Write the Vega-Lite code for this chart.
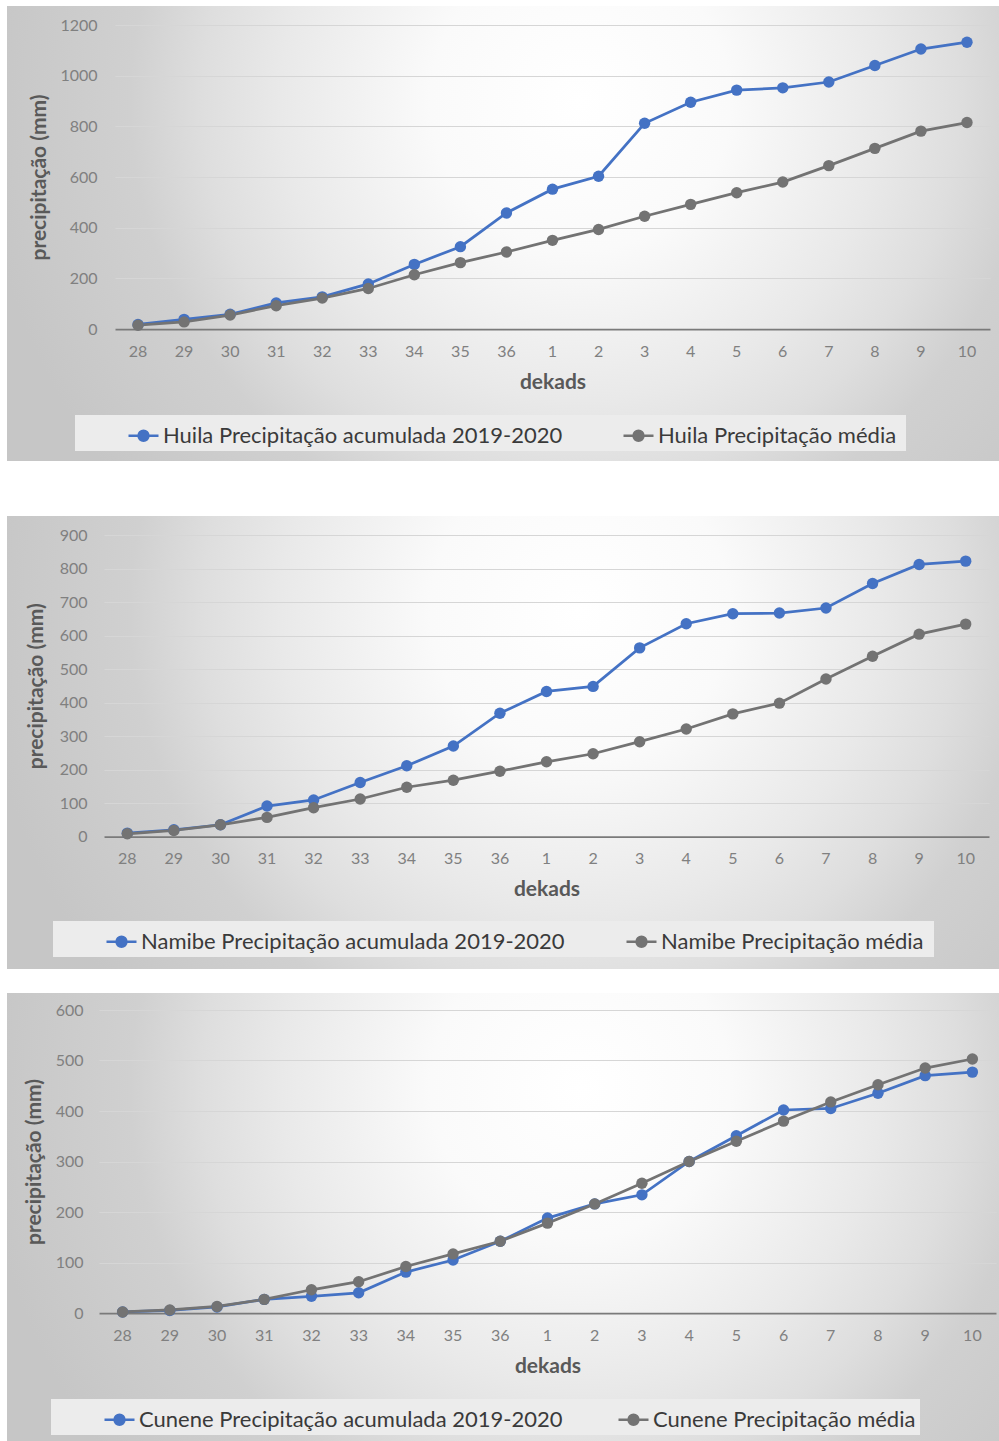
{
  "$schema": "https://vega.github.io/schema/vega-lite/v6.json",
  "padding": {"left": 7, "top": 6, "right": 0, "bottom": 0},
  "background": "#ffffff",
  "datasets": {
    "huila": [
      {"dekad": "28", "serie": "Huila  Precipitação acumulada 2019-2020", "mm": 18},
      {"dekad": "29", "serie": "Huila  Precipitação acumulada 2019-2020", "mm": 38},
      {"dekad": "30", "serie": "Huila  Precipitação acumulada 2019-2020", "mm": 58},
      {"dekad": "31", "serie": "Huila  Precipitação acumulada 2019-2020", "mm": 103},
      {"dekad": "32", "serie": "Huila  Precipitação acumulada 2019-2020", "mm": 127},
      {"dekad": "33", "serie": "Huila  Precipitação acumulada 2019-2020", "mm": 178},
      {"dekad": "34", "serie": "Huila  Precipitação acumulada 2019-2020", "mm": 255},
      {"dekad": "35", "serie": "Huila  Precipitação acumulada 2019-2020", "mm": 325},
      {"dekad": "36", "serie": "Huila  Precipitação acumulada 2019-2020", "mm": 458},
      {"dekad": "1", "serie": "Huila  Precipitação acumulada 2019-2020", "mm": 552},
      {"dekad": "2", "serie": "Huila  Precipitação acumulada 2019-2020", "mm": 603},
      {"dekad": "3", "serie": "Huila  Precipitação acumulada 2019-2020", "mm": 812},
      {"dekad": "4", "serie": "Huila  Precipitação acumulada 2019-2020", "mm": 895},
      {"dekad": "5", "serie": "Huila  Precipitação acumulada 2019-2020", "mm": 943},
      {"dekad": "6", "serie": "Huila  Precipitação acumulada 2019-2020", "mm": 952},
      {"dekad": "7", "serie": "Huila  Precipitação acumulada 2019-2020", "mm": 975},
      {"dekad": "8", "serie": "Huila  Precipitação acumulada 2019-2020", "mm": 1040},
      {"dekad": "9", "serie": "Huila  Precipitação acumulada 2019-2020", "mm": 1105},
      {"dekad": "10", "serie": "Huila  Precipitação acumulada 2019-2020", "mm": 1132},
      {"dekad": "28", "serie": "Huila  Precipitação média", "mm": 15},
      {"dekad": "29", "serie": "Huila  Precipitação média", "mm": 28},
      {"dekad": "30", "serie": "Huila  Precipitação média", "mm": 55},
      {"dekad": "31", "serie": "Huila  Precipitação média", "mm": 92},
      {"dekad": "32", "serie": "Huila  Precipitação média", "mm": 122},
      {"dekad": "33", "serie": "Huila  Precipitação média", "mm": 160},
      {"dekad": "34", "serie": "Huila  Precipitação média", "mm": 214},
      {"dekad": "35", "serie": "Huila  Precipitação média", "mm": 262},
      {"dekad": "36", "serie": "Huila  Precipitação média", "mm": 304},
      {"dekad": "1", "serie": "Huila  Precipitação média", "mm": 350},
      {"dekad": "2", "serie": "Huila  Precipitação média", "mm": 393},
      {"dekad": "3", "serie": "Huila  Precipitação média", "mm": 445},
      {"dekad": "4", "serie": "Huila  Precipitação média", "mm": 492},
      {"dekad": "5", "serie": "Huila  Precipitação média", "mm": 538},
      {"dekad": "6", "serie": "Huila  Precipitação média", "mm": 580},
      {"dekad": "7", "serie": "Huila  Precipitação média", "mm": 645},
      {"dekad": "8", "serie": "Huila  Precipitação média", "mm": 713},
      {"dekad": "9", "serie": "Huila  Precipitação média", "mm": 781},
      {"dekad": "10", "serie": "Huila  Precipitação média", "mm": 815}
    ],
    "namibe": [
      {"dekad": "28", "serie": "Namibe  Precipitação acumulada 2019-2020", "mm": 10},
      {"dekad": "29", "serie": "Namibe  Precipitação acumulada 2019-2020", "mm": 20},
      {"dekad": "30", "serie": "Namibe  Precipitação acumulada 2019-2020", "mm": 35},
      {"dekad": "31", "serie": "Namibe  Precipitação acumulada 2019-2020", "mm": 91},
      {"dekad": "32", "serie": "Namibe  Precipitação acumulada 2019-2020", "mm": 109},
      {"dekad": "33", "serie": "Namibe  Precipitação acumulada 2019-2020", "mm": 161},
      {"dekad": "34", "serie": "Namibe  Precipitação acumulada 2019-2020", "mm": 211},
      {"dekad": "35", "serie": "Namibe  Precipitação acumulada 2019-2020", "mm": 270},
      {"dekad": "36", "serie": "Namibe  Precipitação acumulada 2019-2020", "mm": 368},
      {"dekad": "1", "serie": "Namibe  Precipitação acumulada 2019-2020", "mm": 433},
      {"dekad": "2", "serie": "Namibe  Precipitação acumulada 2019-2020", "mm": 448},
      {"dekad": "3", "serie": "Namibe  Precipitação acumulada 2019-2020", "mm": 563},
      {"dekad": "4", "serie": "Namibe  Precipitação acumulada 2019-2020", "mm": 635},
      {"dekad": "5", "serie": "Namibe  Precipitação acumulada 2019-2020", "mm": 665},
      {"dekad": "6", "serie": "Namibe  Precipitação acumulada 2019-2020", "mm": 667},
      {"dekad": "7", "serie": "Namibe  Precipitação acumulada 2019-2020", "mm": 682},
      {"dekad": "8", "serie": "Namibe  Precipitação acumulada 2019-2020", "mm": 755},
      {"dekad": "9", "serie": "Namibe  Precipitação acumulada 2019-2020", "mm": 812},
      {"dekad": "10", "serie": "Namibe  Precipitação acumulada 2019-2020", "mm": 822},
      {"dekad": "28", "serie": "Namibe  Precipitação média", "mm": 8},
      {"dekad": "29", "serie": "Namibe  Precipitação média", "mm": 18},
      {"dekad": "30", "serie": "Namibe  Precipitação média", "mm": 35},
      {"dekad": "31", "serie": "Namibe  Precipitação média", "mm": 57},
      {"dekad": "32", "serie": "Namibe  Precipitação média", "mm": 86},
      {"dekad": "33", "serie": "Namibe  Precipitação média", "mm": 112},
      {"dekad": "34", "serie": "Namibe  Precipitação média", "mm": 147},
      {"dekad": "35", "serie": "Namibe  Precipitação média", "mm": 168},
      {"dekad": "36", "serie": "Namibe  Precipitação média", "mm": 195},
      {"dekad": "1", "serie": "Namibe  Precipitação média", "mm": 223},
      {"dekad": "2", "serie": "Namibe  Precipitação média", "mm": 247},
      {"dekad": "3", "serie": "Namibe  Precipitação média", "mm": 283},
      {"dekad": "4", "serie": "Namibe  Precipitação média", "mm": 321},
      {"dekad": "5", "serie": "Namibe  Precipitação média", "mm": 366},
      {"dekad": "6", "serie": "Namibe  Precipitação média", "mm": 398},
      {"dekad": "7", "serie": "Namibe  Precipitação média", "mm": 470},
      {"dekad": "8", "serie": "Namibe  Precipitação média", "mm": 538},
      {"dekad": "9", "serie": "Namibe  Precipitação média", "mm": 604},
      {"dekad": "10", "serie": "Namibe  Precipitação média", "mm": 634}
    ],
    "cunene": [
      {"dekad": "28", "serie": "Cunene Precipitação acumulada 2019-2020", "mm": 2},
      {"dekad": "29", "serie": "Cunene Precipitação acumulada 2019-2020", "mm": 5},
      {"dekad": "30", "serie": "Cunene Precipitação acumulada 2019-2020", "mm": 12},
      {"dekad": "31", "serie": "Cunene Precipitação acumulada 2019-2020", "mm": 27},
      {"dekad": "32", "serie": "Cunene Precipitação acumulada 2019-2020", "mm": 33},
      {"dekad": "33", "serie": "Cunene Precipitação acumulada 2019-2020", "mm": 40},
      {"dekad": "34", "serie": "Cunene Precipitação acumulada 2019-2020", "mm": 81},
      {"dekad": "35", "serie": "Cunene Precipitação acumulada 2019-2020", "mm": 105},
      {"dekad": "36", "serie": "Cunene Precipitação acumulada 2019-2020", "mm": 142},
      {"dekad": "1", "serie": "Cunene Precipitação acumulada 2019-2020", "mm": 188},
      {"dekad": "2", "serie": "Cunene Precipitação acumulada 2019-2020", "mm": 216},
      {"dekad": "3", "serie": "Cunene Precipitação acumulada 2019-2020", "mm": 234},
      {"dekad": "4", "serie": "Cunene Precipitação acumulada 2019-2020", "mm": 300},
      {"dekad": "5", "serie": "Cunene Precipitação acumulada 2019-2020", "mm": 351},
      {"dekad": "6", "serie": "Cunene Precipitação acumulada 2019-2020", "mm": 402},
      {"dekad": "7", "serie": "Cunene Precipitação acumulada 2019-2020", "mm": 405},
      {"dekad": "8", "serie": "Cunene Precipitação acumulada 2019-2020", "mm": 435},
      {"dekad": "9", "serie": "Cunene Precipitação acumulada 2019-2020", "mm": 470},
      {"dekad": "10", "serie": "Cunene Precipitação acumulada 2019-2020", "mm": 477},
      {"dekad": "28", "serie": "Cunene Precipitação média", "mm": 2},
      {"dekad": "29", "serie": "Cunene Precipitação média", "mm": 6},
      {"dekad": "30", "serie": "Cunene Precipitação média", "mm": 13},
      {"dekad": "31", "serie": "Cunene Precipitação média", "mm": 27},
      {"dekad": "32", "serie": "Cunene Precipitação média", "mm": 46},
      {"dekad": "33", "serie": "Cunene Precipitação média", "mm": 62},
      {"dekad": "34", "serie": "Cunene Precipitação média", "mm": 92},
      {"dekad": "35", "serie": "Cunene Precipitação média", "mm": 117},
      {"dekad": "36", "serie": "Cunene Precipitação média", "mm": 142},
      {"dekad": "1", "serie": "Cunene Precipitação média", "mm": 178},
      {"dekad": "2", "serie": "Cunene Precipitação média", "mm": 216},
      {"dekad": "3", "serie": "Cunene Precipitação média", "mm": 257},
      {"dekad": "4", "serie": "Cunene Precipitação média", "mm": 300},
      {"dekad": "5", "serie": "Cunene Precipitação média", "mm": 340},
      {"dekad": "6", "serie": "Cunene Precipitação média", "mm": 380},
      {"dekad": "7", "serie": "Cunene Precipitação média", "mm": 418},
      {"dekad": "8", "serie": "Cunene Precipitação média", "mm": 452},
      {"dekad": "9", "serie": "Cunene Precipitação média", "mm": 485},
      {"dekad": "10", "serie": "Cunene Precipitação média", "mm": 503}
    ]
  },
  "spacing": 55,
  "resolve": {"scale": {"x": "independent", "y": "independent", "color": "independent"}, "legend": {"color": "independent"}},
  "vconcat": [
    {
      "width": 992,
      "height": 455,
      "data": {"name": "huila"},
      "view": {"stroke": null, "fill": {"gradient": "radial", "x1": 0.578, "y1": 0.366, "r1": 0, "x2": 0.578, "y2": 0.366, "r2": 0.605, "stops": [{"offset": 0, "color": "#ffffff"}, {"offset": 0.25, "color": "#fafafa"}, {"offset": 0.5, "color": "#e9e9e9"}, {"offset": 0.63, "color": "#dedede"}, {"offset": 0.75, "color": "#d0d0d0"}, {"offset": 1, "color": "#c6c6c6"}]}},
      "mark": {"type": "line", "strokeWidth": 2.75, "point": {"filled": true, "size": 130, "opacity": 1}},
      "encoding": {
        "x": {"field": "dekad", "type": "nominal", "bandPosition": 0.5,
              "scale": {"type": "band", "domain": ["28","29","30","31","32","33","34","35","36","1","2","3","4","5","6","7","8","9","10"], "range": [108, 983], "paddingInner": 0, "paddingOuter": 0},
              "axis": {"title": "dekads", "offset": -132}},
        "y": {"field": "mm", "type": "quantitative",
              "scale": {"domain": [0, 1200], "range": [323, 19], "nice": false},
              "axis": {"title": "precipitação (mm)", "values": [0, 200, 400, 600, 800, 1000, 1200], "format": "d", "offset": -98, "titlePadding": 10}},
        "color": {"field": "serie", "type": "nominal",
                  "scale": {"domain": ["Huila  Precipitação acumulada 2019-2020", "Huila  Precipitação média"], "range": ["#4472c4", "#737373"]},
                  "legend": {"legendX": 68, "legendY": 409}}
      }
    },
    {
      "spacing": 24,
      "resolve": {"scale": {"x": "independent", "y": "independent", "color": "independent"}, "legend": {"color": "independent"}},
      "vconcat": [
        {
          "width": 992,
          "height": 453,
          "data": {"name": "namibe"},
          "view": {"stroke": null, "fill": {"gradient": "radial", "x1": 0.578, "y1": 0.367, "r1": 0, "x2": 0.578, "y2": 0.367, "r2": 0.605, "stops": [{"offset": 0, "color": "#ffffff"}, {"offset": 0.25, "color": "#fafafa"}, {"offset": 0.5, "color": "#e9e9e9"}, {"offset": 0.63, "color": "#dedede"}, {"offset": 0.75, "color": "#d0d0d0"}, {"offset": 1, "color": "#c6c6c6"}]}},
          "mark": {"type": "line", "strokeWidth": 2.75, "point": {"filled": true, "size": 130, "opacity": 1}},
          "encoding": {
            "x": {"field": "dekad", "type": "nominal", "bandPosition": 0.5,
                  "scale": {"type": "band", "domain": ["28","29","30","31","32","33","34","35","36","1","2","3","4","5","6","7","8","9","10"], "range": [97, 982], "paddingInner": 0, "paddingOuter": 0},
                  "axis": {"title": "dekads", "offset": -132.5}},
            "y": {"field": "mm", "type": "quantitative",
                  "scale": {"domain": [0, 900], "range": [320.5, 19], "nice": false},
                  "axis": {"title": "precipitação (mm)", "values": [0, 100, 200, 300, 400, 500, 600, 700, 800, 900], "format": "d", "offset": -88, "titlePadding": 13}},
            "color": {"field": "serie", "type": "nominal",
                      "scale": {"domain": ["Namibe  Precipitação acumulada 2019-2020", "Namibe  Precipitação média"], "range": ["#4472c4", "#737373"]},
                      "legend": {"legendX": 46, "legendY": 405}}
          }
        },
        {
          "width": 992,
          "height": 448,
          "data": {"name": "cunene"},
          "view": {"stroke": null, "fill": {"gradient": "radial", "x1": 0.578, "y1": 0.369, "r1": 0, "x2": 0.578, "y2": 0.369, "r2": 0.605, "stops": [{"offset": 0, "color": "#ffffff"}, {"offset": 0.25, "color": "#fafafa"}, {"offset": 0.5, "color": "#e9e9e9"}, {"offset": 0.63, "color": "#dedede"}, {"offset": 0.75, "color": "#d0d0d0"}, {"offset": 1, "color": "#c6c6c6"}]}},
          "mark": {"type": "line", "strokeWidth": 2.75, "point": {"filled": true, "size": 130, "opacity": 1}},
          "encoding": {
            "x": {"field": "dekad", "type": "nominal", "bandPosition": 0.5,
                  "scale": {"type": "band", "domain": ["28","29","30","31","32","33","34","35","36","1","2","3","4","5","6","7","8","9","10"], "range": [92, 989], "paddingInner": 0, "paddingOuter": 0},
                  "axis": {"title": "dekads", "offset": -128}},
            "y": {"field": "mm", "type": "quantitative",
                  "scale": {"domain": [0, 600], "range": [320, 17], "nice": false},
                  "axis": {"title": "precipitação (mm)", "values": [0, 100, 200, 300, 400, 500, 600], "format": "d", "offset": -84, "titlePadding": 11}},
            "color": {"field": "serie", "type": "nominal",
                      "scale": {"domain": ["Cunene Precipitação acumulada 2019-2020", "Cunene Precipitação média"], "range": ["#4472c4", "#737373"]},
                      "legend": {"legendX": 44, "legendY": 406}}
          }
        }
      ]
    }
  ],
  "config": {
    "font": "Lato",
    "axis": {
      "labelFont": "Lato", "labelFontSize": 16, "labelColor": "#808080",
      "titleFont": "Lato", "titleFontSize": 21, "titleFontWeight": "bold", "titleColor": "#595959",
      "ticks": false, "domain": false
    },
    "axisX": {"labelAngle": 0, "domain": true, "domainColor": "#7a7a7a", "domainWidth": 1.75, "grid": false, "labelPadding": 14, "titlePadding": 12},
    "axisY": {"grid": true, "gridColor": "#d6d6d6", "gridWidth": 1, "labelPadding": 8},
    "legend": {
      "orient": "none", "direction": "horizontal", "title": null,
      "fillColor": "#ececec", "padding": 4, "columnPadding": 6,
      "symbolOffset": 48, "labelOffset": 3,
      "labelFont": "Lato", "labelFontSize": 22, "labelColor": "#3a3a3a", "labelLimit": 0,
      "symbolType": "M-1,0L-0.33,0M0.33,0L1,0M-0.33,0A0.33,0.33 0 1,1 0.33,0A0.33,0.33 0 1,1 -0.33,0Z",
      "symbolSize": 900, "symbolStrokeWidth": 2.5
    }
  }
}
